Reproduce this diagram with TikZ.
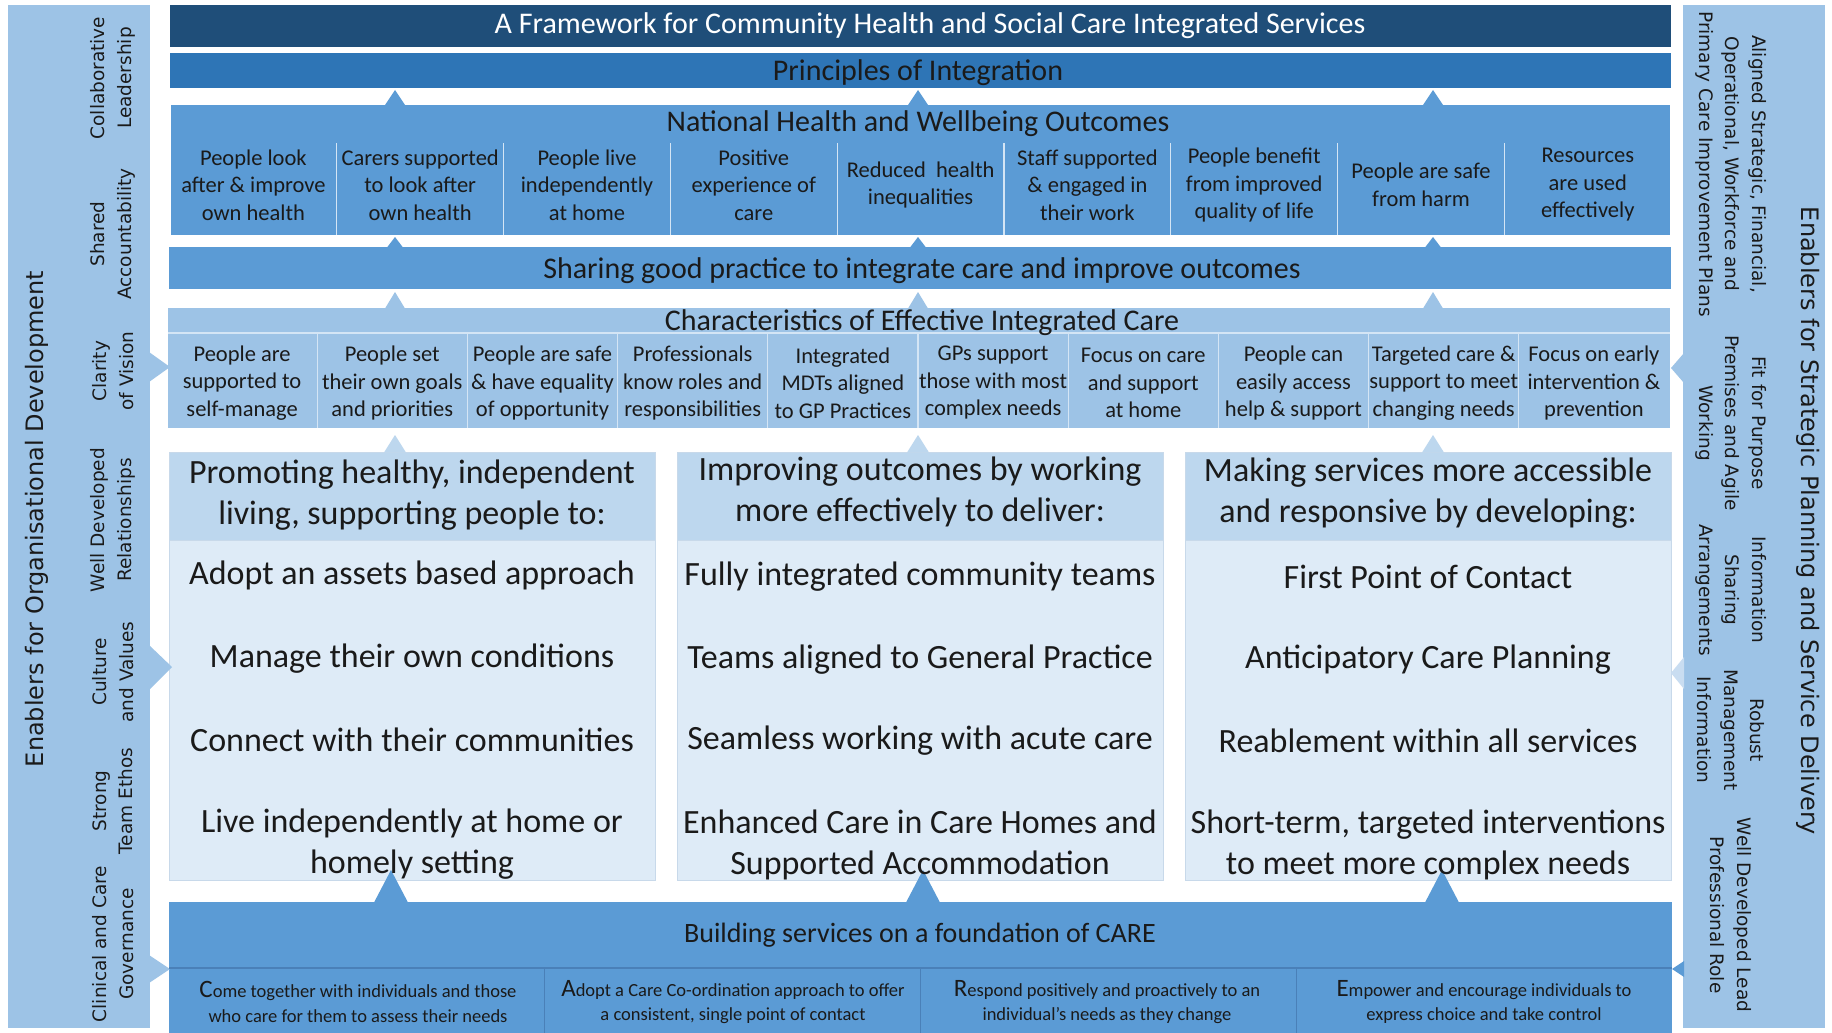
\documentclass[tikz,border=0pt]{standalone}
\usepackage{fontspec}
\setmainfont{Carlito}
\newfontfamily\sidefont{DejaVu Sans}
\newcommand\myfs[2]{\fontsize{#1}{#2}\selectfont}
\definecolor{navy}{HTML}{1F4E79}
\definecolor{princ}{HTML}{2E75B6}
\definecolor{midb}{HTML}{5B9BD5}
\definecolor{lightb}{HTML}{9DC3E6}
\definecolor{headb}{HTML}{BDD7EE}
\definecolor{bodyb}{HTML}{DEEBF7}
\definecolor{paleb}{HTML}{C9DDF1}
\definecolor{edgeb}{HTML}{C8D9EA}
\definecolor{sepw}{HTML}{D4E5F5}
\definecolor{sepd}{HTML}{4A80B8}
\definecolor{txt}{HTML}{1A1A1A}
\begin{document}
\begin{tikzpicture}[x=1pt,y=-1pt,
  every node/.style={inner sep=0pt, outer sep=0pt},
  rect/.style={rectangle, anchor=north west},
  bandtxt/.style={font=\myfs{30}{36}, text=txt},
  celltxt/.style={align=center, font=\myfs{22.5}{27.5}, text=txt},
  headtxt/.style={align=center, font=\myfs{34}{41}, text=txt},
  caretxt/.style={align=center, font=\myfs{18.5}{24.5}, text=txt},
  sidebig/.style={font=\sidefont\myfs{24}{28}, text=txt},
  sidesmall/.style={align=center, font=\sidefont\myfs{18.5}{26.5}, text=txt}]
\useasboundingbox (0,0) rectangle (1832,1033);
\fill[white] (0,0) rectangle (1832,1033);

% side bars
\node[rect, fill=lightb, minimum width=142pt, minimum height=1023pt] (leftbar) at (8,5) {};
\node[rect, fill=lightb, minimum width=142pt, minimum height=1023pt] (rightbar) at (1683,5) {};

% main bands
\node[rect, fill=navy, minimum width=1501pt, minimum height=42pt] (titleband) at (170,5) {};
\node[rect, fill=princ, minimum width=1501pt, minimum height=35pt] (princband) at (170,53) {};
\node[rect, fill=midb, minimum width=1499pt, minimum height=130pt] (natband) at (171,105) {};
\node[rect, fill=midb, minimum width=1502pt, minimum height=42pt] (shareband) at (169,247) {};
\node[rect, fill=lightb, minimum width=1502pt, minimum height=120pt] (charband) at (168,308) {};
\node[rect, fill=midb, minimum width=1503pt, minimum height=131pt] (careband) at (169,902) {};

% three columns
\foreach \x [count=\i] in {169,677,1185}{
  \node[rect, fill=headb, draw=edgeb, line width=1pt, minimum width=486pt, minimum height=88pt] (head\i) at (\x,452) {};
  \node[rect, fill=bodyb, draw=edgeb, line width=1pt, minimum width=486pt, minimum height=340pt] (body\i) at (\x,540) {};
}

% upward triangles
\foreach \c in {395,918,1433}{
  \fill[midb] (\c-10,105) -- (\c,90) -- (\c+10,105) -- cycle;
  \fill[midb] (\c-8,247.5) -- (\c,237) -- (\c+8,247.5) -- cycle;
  \fill[lightb] (\c-10,308.5) -- (\c,292) -- (\c+10,308.5) -- cycle;
  \fill[headb] (\c-11,452.5) -- (\c,435) -- (\c+11,452.5) -- cycle;
}
\foreach \c in {391,923,1442}{
  \fill[midb] (\c-17,902.5) -- (\c,870) -- (\c+17,902.5) -- cycle;
}

% side triangles
\fill[lightb] (149,352) -- (170,367) -- (149,382) -- cycle;
\fill[lightb] (149,645) -- (172,667) -- (149,690) -- cycle;
\fill[lightb] (149,955) -- (170,969) -- (149,983) -- cycle;
\fill[lightb] (1684,353) -- (1671,368) -- (1684,383) -- cycle;
\fill[paleb] (1684,657) -- (1671,673) -- (1684,689) -- cycle;
\fill[midb] (1684,961) -- (1672,969) -- (1684,977) -- cycle;

% separators
\foreach \k in {1,...,8}{
  \draw[sepw, line width=1.3pt] ({170+166.8*\k},143) -- ({170+166.8*\k},235);
}
\draw[sepw, line width=1.3pt] (168,333) -- (1670,333);
\foreach \k in {1,...,9}{
  \draw[sepw, line width=1.3pt] ({167+150.2*\k},333) -- ({167+150.2*\k},428);
}
\draw[sepd, line width=1.1pt] (169,968) -- (1672,968);
\foreach \k in {1,2,3}{
  \draw[sepd, line width=1.1pt] ({169+375.75*\k},968) -- ({169+375.75*\k},1033);
}

% band titles
\node[font=\myfs{30}{36}, text=white] (titletxt) at (930,26) {A Framework for Community Health and Social Care Integrated Services};
\node[bandtxt] (princtxt) at (918,73) {Principles of Integration};
\node[bandtxt] (nattxt) at (918,124) {National Health and Wellbeing Outcomes};
\node[bandtxt] (sharetxt) at (922,271) {Sharing good practice to integrate care and improve outcomes};
\node[bandtxt] (chartxt) at (922,323) {Characteristics of Effective Integrated Care};
\node[bandtxt, font=\myfs{28}{34}] (caretitle) at (920,935) {Building services on a foundation of CARE};

% national outcomes cells
\foreach \t [count=\i from 0] in {
  {People look\\after \& improve\\own health},
  {Carers supported\\to look after\\own health},
  {People live\\independently\\at home},
  {Positive\\experience of\\care},
  {Reduced\ \ health\\inequalities},
  {Staff supported\\\& engaged in\\their work},
  {People benefit\\from improved\\quality of life},
  {People are safe\\from harm},
  {Resources\\are used\\effectively}}{
  \node[celltxt] (nat\i) at ({170+166.8*(\i+0.5)},185) {\t};
}

% characteristics cells
\foreach \t [count=\i from 0] in {
  {People are\\supported to\\self-manage},
  {People set\\their own goals\\and priorities},
  {People are safe\\\& have equality\\of opportunity},
  {Professionals\\know roles and\\responsibilities},
  {Integrated\\MDTs aligned\\to GP Practices},
  {GPs support\\those with most\\complex needs},
  {Focus on care\\and support\\at home},
  {People can\\easily access\\help \& support},
  {Targeted care \&\\support to meet\\changing needs},
  {Focus on early\\intervention \&\\prevention}}{
  \node[celltxt] (ch\i) at ({167+150.2*(\i+0.5)},383) {\t};
}

% column texts
\node[headtxt] (h1t) at (412,495) {Promoting healthy, independent\\living, supporting people to:};
\node[headtxt] (h2t) at (920,492) {Improving outcomes by working\\more effectively to deliver:};
\node[headtxt] (h3t) at (1428,493) {Making services more accessible\\and responsive by developing:};

\node[headtxt] (a1) at (412,575) {Adopt an assets based approach};
\node[headtxt] (a2) at (412,659) {Manage their own conditions};
\node[headtxt] (a3) at (412,740) {Connect with their communities};
\node[headtxt] (a4) at (412,844) {Live independently at home or\\homely setting};

\node[headtxt] (b1) at (920,577) {Fully integrated community teams};
\node[headtxt] (b2) at (920,660) {Teams aligned to General Practice};
\node[headtxt] (b3) at (920,741) {Seamless working with acute care};
\node[headtxt] (b4) at (920,845) {Enhanced Care in Care Homes and\\Supported Accommodation};

\node[headtxt] (c1) at (1428,577) {First Point of Contact};
\node[headtxt] (c2) at (1428,660) {Anticipatory Care Planning};
\node[headtxt] (c3) at (1428,741) {Reablement within all services};
\node[headtxt] (c4) at (1428,845) {Short-term, targeted interventions\\to meet more complex needs};

% CARE cells
\node[caretxt] (careC) at (358,1002) {{\myfs{25}{25}C}ome together with individuals and those\\who care for them to assess their needs};
\node[caretxt] (careA) at (733,1002) {{\myfs{25}{25}A}dopt a Care Co-ordination approach to offer\\a consistent, single point of contact};
\node[caretxt] (careR) at (1107,1002) {{\myfs{25}{25}R}espond positively and proactively to an\\individual's needs as they change};
\node[caretxt] (careE) at (1484,1002) {{\myfs{25}{25}E}mpower and encourage individuals to\\express choice and take control};

% left side texts
\node[sidebig, rotate=90] (leftbig) at (37,519) {Enablers for Organisational Development};
\node[sidesmall, rotate=90] (l1) at (113,78) {Collaborative\\Leadership};
\node[sidesmall, rotate=90] (l2) at (113,234) {Shared\\Accountability};
\node[sidesmall, rotate=90] (l3) at (113,371) {Clarity\\of Vision};
\node[sidesmall, rotate=90] (l4) at (113,520) {Well Developed\\Relationships};
\node[sidesmall, rotate=90] (l5) at (113,672) {Culture\\and Values};
\node[sidesmall, rotate=90] (l6) at (113,801) {Strong\\Team Ethos};
\node[sidesmall, rotate=90] (l7) at (113,944) {Clinical and Care\\Governance};

% right side texts
\node[sidebig, rotate=-90] (rightbig) at (1808,521) {Enablers for Strategic Planning and Service Delivery};
\node[sidesmall, rotate=-90] (r1) at (1731,164) {Aligned Strategic, Financial,\\Operational, Workforce and\\Primary Care Improvement Plans};
\node[sidesmall, rotate=-90] (r2) at (1731,423) {Fit for Purpose\\Premises and Agile\\Working};
\node[sidesmall, rotate=-90] (r3) at (1731,590) {Information\\Sharing\\Arrangements};
\node[sidesmall, rotate=-90] (r4) at (1731,730) {Robust\\Management\\Information};
\node[sidesmall, rotate=-90] (r5) at (1731,915) {Well Developed Lead\\Professional Role};
\end{tikzpicture}
\end{document}
